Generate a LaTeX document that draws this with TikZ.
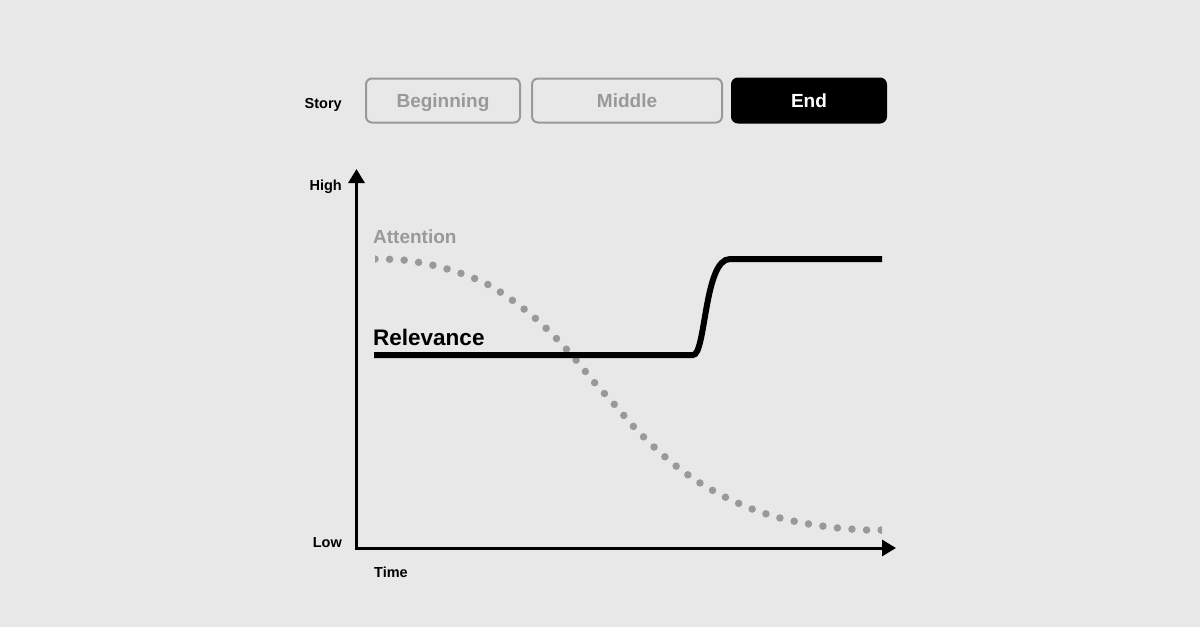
\documentclass[tikz,border=0pt]{standalone}
\usepackage{fontspec}
\setmainfont{Liberation Sans}
\usetikzlibrary{arrows.meta,calc}
\definecolor{bggray}{HTML}{E8E8E8}
\definecolor{dimgray}{HTML}{999999}

\begin{document}
\begin{tikzpicture}[x=1pt,y=-1pt,
		stage/.style={draw=dimgray, line width=2pt, rounded corners=6pt, text=dimgray,
			font=\fontsize{19}{19}\selectfont\bfseries, minimum height=44pt, inner sep=0pt,
			text height=13.6pt, text depth=0pt},
		current/.style={stage, draw=black, fill=black, text=white},
		tag/.style={font=\fontsize{14.5}{14.5}\selectfont\bfseries, inner sep=0pt},
		axis/.style={line width=3pt, -{Triangle[length=14pt,width=16pt]}},
		attention/.style={dimgray, line width=7.5pt, line cap=round, dash pattern=on 0pt off 14.6pt},
		relevance/.style={black, line width=6pt}]
		\fill[bggray] (0,0) rectangle (1200,627);
		\useasboundingbox (0,0) rectangle (1200,627);
		% story stages
		\node[tag, anchor=base east] (story) at (342,108) {Story};
		\node[stage, minimum width=154pt] (begin) at (443,100.5) {Beginning};
		\node[stage, minimum width=190pt] (middle) at (627,100.5) {Middle};
		\node[current, minimum width=154pt] (end) at (809,100.5) {End};
		% axes
		\coordinate (origin) at (356.5,548);
		\coordinate (ytip) at (356.5,169);
		\coordinate (xtip) at (896,548);
		\draw[axis] ($(origin)+(0,1.5)$) -- (ytip);
		\draw[axis] (origin) -- (xtip);
		\node[tag, anchor=base east] (high) at (342,190) {High};
		\node[tag, anchor=base east] (low) at (342,547) {Low};
		\node[tag, anchor=base west] (time) at (374,577) {Time};
		% curves
		\node[tag, anchor=base west, text=dimgray, font=\fontsize{19}{19}\selectfont\bfseries] (attlabel) at (373,243) {Attention};
		\node[tag, anchor=base west, font=\fontsize{22.5}{22.5}\selectfont\bfseries] (rellabel) at (373,345) {Relevance};
		\begin{scope}
			\clip (375,240) rectangle (882,545);
			\draw[attention] plot[smooth] coordinates {(375,259) (403,260) (432,265) (460,273)
				(487,284) (512,300) (535,318) (556,338) (576,360) (594,382) (614,404) (633,426)
				(654,447) (676,466) (700,483) (725,497) (752,509) (780,518) (809,524) (838,528)
				(867,530) (884,530)};
		\end{scope}
		\draw[relevance] (374,355) -- (693,355) .. controls (706,355) and (704,259) .. (730,259) -- (882,259);
	\end{tikzpicture}
\end{document}
